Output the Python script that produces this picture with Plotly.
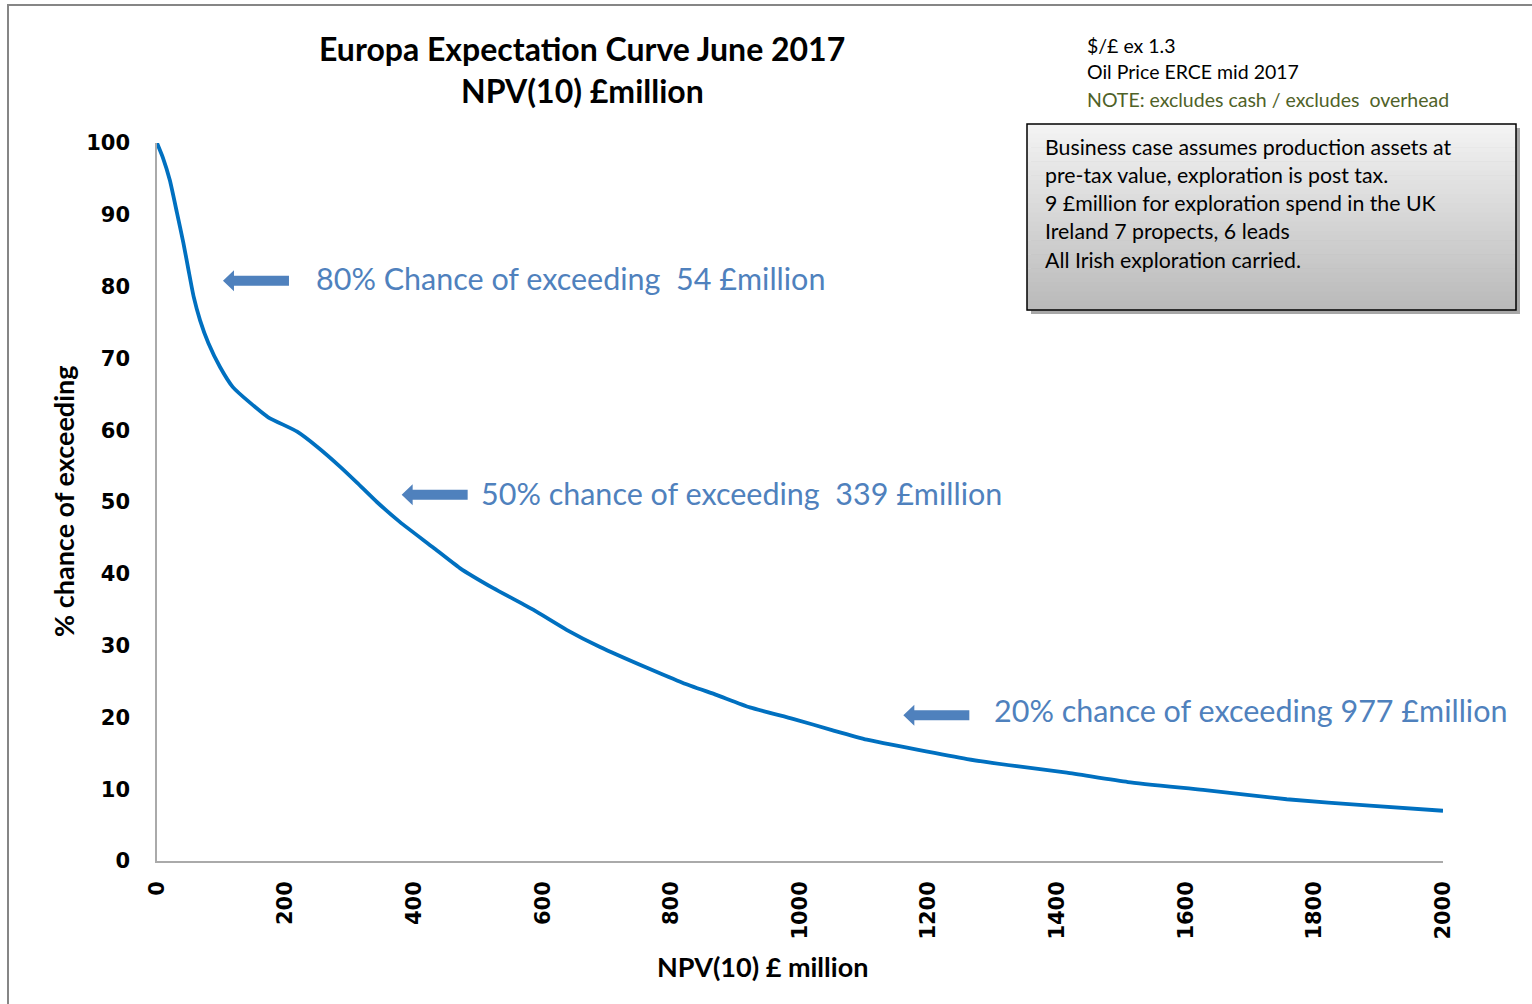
import plotly.graph_objects as go

# ---------------- data ----------------
npv = [0, 9, 20, 31, 41, 49, 57, 67, 80, 98, 118, 145, 173, 218, 249, 285, 311, 342,
       378, 429, 471, 523, 585, 637, 689, 762, 818, 871, 922, 989, 1051, 1104, 1182,
       1260, 1337, 1415, 1510, 1627, 1757, 1886, 2000]
pct = [100, 98, 94.8, 90.3, 86.1, 82.3, 78.6, 75.3, 72.1, 68.8, 66.0, 63.8, 61.8, 59.8,
       57.7, 54.9, 52.7, 50.0, 47.2, 43.7, 40.8, 38.0, 35.0, 32.2, 29.8, 26.9, 24.8,
       23.1, 21.4, 19.8, 18.2, 16.9, 15.5, 14.2, 13.2, 12.3, 11.0, 9.9, 8.6, 7.7, 7.0]

x_ticks = [0, 200, 400, 600, 800, 1000, 1200, 1400, 1600, 1800, 2000]
y_ticks = [0, 10, 20, 30, 40, 50, 60, 70, 80, 90, 100]

callout_texts = ["80% Chance of exceeding  54 £million",
                 "50% chance of exceeding  339 £million",
                 "20% chance of exceeding 977 £million"]
callout_arrow_tip = [(102.6, 80.8), (380.5, 51.0), (1160.7, 20.3)]
callout_text_pos = [(244, 81.2), (501, 51.3), (1299, 21.0)]

title_lines = ["Europa Expectation Curve June 2017", "NPV(10) £million"]
note_lines = ["$/£ ex 1.3", "Oil Price ERCE mid 2017", "NOTE: excludes cash / excludes  overhead"]
box_lines = ["Business case assumes production assets at",
             "pre-tax value, exploration is post tax.",
             "9 £million for exploration spend in the UK",
             "Ireland 7 propects, 6 leads",
             "All Irish exploration carried."]

# ---------------- layout helpers ----------------
W, H = 1532, 1004
L, R, T, B = 157, 1443, 143, 861


def pxx(px):
    return (px - L) / (R - L)


def pxy(py):
    return (B - py) / (B - T)


SANS = "Lato, 'Open Sans', sans-serif"
BLUE_TXT = "rgb(79,129,189)"

fig = go.Figure()
fig.add_trace(go.Scatter(x=npv, y=pct, mode="lines",
                         line=dict(color="rgb(0,112,192)", width=3.8, shape="spline", smoothing=0.5),
                         hoverinfo="x+y", showlegend=False))

shapes = []
annotations = []

# outer chart border (top & left visible)
shapes.append(dict(type="rect", xref="paper", yref="paper",
                   x0=pxx(8), x1=pxx(1545), y0=pxy(5), y1=pxy(1015),
                   line=dict(color="rgb(134,134,134)", width=2), fillcolor="rgba(0,0,0,0)", layer="below"))

# title
for t, py in zip(title_lines, [48, 91]):
    annotations.append(dict(text=f"<b>{t}</b>", xref="paper", yref="paper", x=pxx(582), y=pxy(py),
                            xanchor="center", yanchor="middle", showarrow=False,
                            font=dict(family=SANS, size=32, color="black")))

# notes top-right
note_colors = ["black", "black", "rgb(79,98,40)"]
for t, py, c in zip(note_lines, [45, 72, 99], note_colors):
    annotations.append(dict(text=t, xref="paper", yref="paper", x=pxx(1085), y=pxy(py),
                            xanchor="left", yanchor="middle", showarrow=False,
                            font=dict(family=SANS, size=19.5, color=c)))

# box: shadow, gradient, border
bx0, bx1, by0, by1 = 1027, 1516, 124, 310
shapes.append(dict(type="rect", xref="paper", yref="paper",
                   x0=pxx(bx0 + 4), x1=pxx(bx1 + 4), y0=pxy(by1 + 4), y1=pxy(by0 + 4),
                   line=dict(width=0), fillcolor="rgba(60,60,60,0.45)"))
n = 40
for k in range(n):
    t = k / (n - 1)
    v = int(round(243 - (243 - 186) * t))
    ya = by0 + (by1 - by0) * k / n
    yb = by0 + (by1 - by0) * (k + 1) / n + 0.6
    shapes.append(dict(type="rect", xref="paper", yref="paper",
                       x0=pxx(bx0), x1=pxx(bx1), y0=pxy(yb), y1=pxy(ya),
                       line=dict(width=0), fillcolor=f"rgb({v},{v},{v})"))
shapes.append(dict(type="rect", xref="paper", yref="paper",
                   x0=pxx(bx0), x1=pxx(bx1), y0=pxy(by1), y1=pxy(by0),
                   line=dict(color="black", width=1.5), fillcolor="rgba(0,0,0,0)"))
for t, py in zip(box_lines, [147, 175, 203, 231, 260]):
    annotations.append(dict(text=t, xref="paper", yref="paper", x=pxx(1043), y=pxy(py),
                            xanchor="left", yanchor="middle", showarrow=False,
                            font=dict(family=SANS, size=21.3, color="black")))

# callouts: block arrows + text
arrow_path = "M0,0 L11,10.5 L11,5 L66,5 L66,-5 L11,-5 L11,-10.5 Z"
for (ax_, ay_), (tx, ty), t in zip(callout_arrow_tip, callout_text_pos, callout_texts):
    shapes.append(dict(type="path", xref="x", yref="y", xsizemode="pixel", ysizemode="pixel",
                       xanchor=ax_, yanchor=ay_, path=arrow_path,
                       fillcolor=BLUE_TXT, line=dict(width=0)))
    annotations.append(dict(text=t, xref="x", yref="y", x=tx, y=ty, xanchor="left", yanchor="middle",
                            showarrow=False, font=dict(family=SANS, size=30.5, color=BLUE_TXT)))

# axis titles
annotations.append(dict(text="<b>% chance of exceeding</b>", xref="paper", yref="paper",
                        x=pxx(63), y=pxy(502), textangle=-90, showarrow=False,
                        xanchor="center", yanchor="middle",
                        font=dict(family=SANS, size=27, color="black")))
annotations.append(dict(text="<b>NPV(10) £ million</b>", xref="paper", yref="paper",
                        x=pxx(762), y=pxy(966), showarrow=False,
                        xanchor="center", yanchor="middle",
                        font=dict(family=SANS, size=27, color="black")))

tickfont = dict(family="'DejaVu Sans', Verdana, sans-serif", size=21, color="black", weight="bold")

fig.update_layout(
    width=W, height=H,
    margin=dict(l=L, r=W - R, t=T, b=H - B, pad=0),
    paper_bgcolor="white", plot_bgcolor="white",
    shapes=shapes, annotations=annotations,
    xaxis=dict(range=[0, 2000], tickvals=x_ticks, ticktext=[str(v) for v in x_ticks],
               tickangle=-90, tickfont=tickfont, showgrid=False, zeroline=False,
               showline=True, linecolor="rgb(170,170,170)", linewidth=1.5,
               ticks="", ticklabelstandoff=10),
    yaxis=dict(range=[0, 100], tickvals=y_ticks, ticktext=[str(v) for v in y_ticks],
               tickfont=tickfont, showgrid=False, zeroline=False,
               showline=True, linecolor="rgb(170,170,170)", linewidth=1.5,
               ticks="", ticklabelstandoff=21),
    showlegend=False,
)

fig.write_html("out.html", config={"displayModeBar": False},
               post_script="document.body.style.margin='0';")
